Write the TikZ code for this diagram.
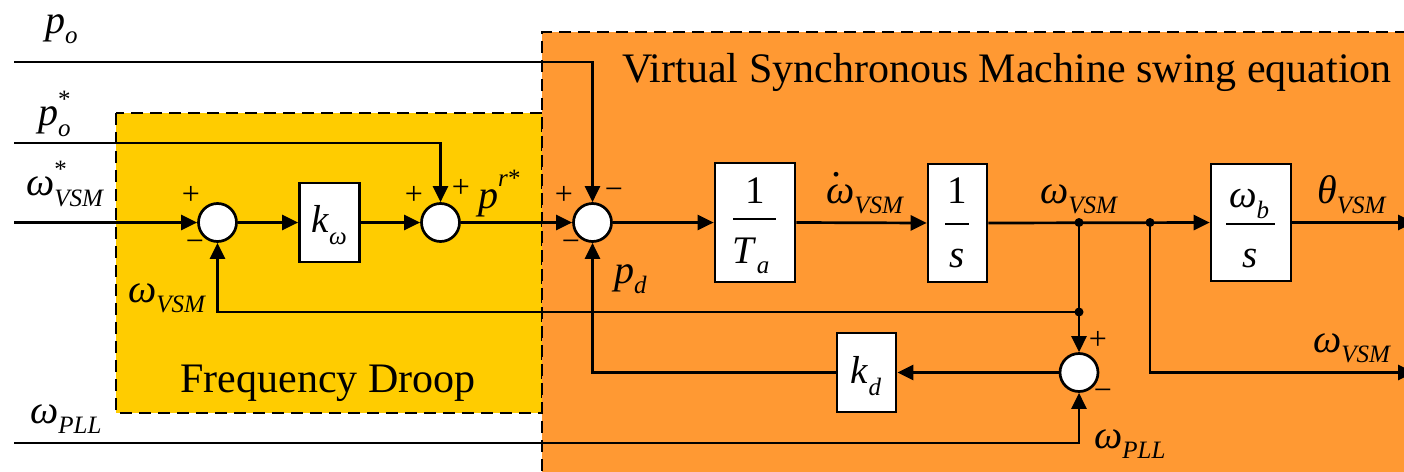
\documentclass[tikz,border=0pt]{standalone}
\usepackage{fontspec}
\setmainfont{Liberation Serif}
\usetikzlibrary{arrows.meta}
\definecolor{droopyellow}{RGB}{255,204,0}
\definecolor{vsmorange}{RGB}{255,153,51}
\newcommand{\msub}[2]{\textit{#1}\raisebox{-10pt}{\fontsize{25}{25}\selectfont\textit{#2}}}
\newcommand{\msubsup}[3]{\textit{#1}\makebox[0pt][l]{\raisebox{18pt}{\fontsize{25}{25}\selectfont #3}}\raisebox{-11pt}{\fontsize{25}{25}\selectfont\textit{#2}}}
\begin{document}
\begin{tikzpicture}[x=1pt,y=-1pt,
  wire/.style={line width=2.7pt},
  sig/.style={wire,-{Triangle[length=16pt,width=15pt]}},
  sumnode/.style={circle,draw,fill=white,line width=2.7pt,minimum size=38pt,inner sep=0pt},
  blk/.style={draw,fill=white,line width=2.7pt,inner sep=0pt},
  lab/.style={inner sep=0pt,anchor=base west,font=\fontsize{40}{44}\selectfont},
  sgn/.style={inner sep=0pt,text height=0.5em,text depth=0pt,font=\fontsize{32}{32}\selectfont},
  jdot/.style={circle,fill=black,minimum size=9pt,inner sep=0pt},
  fracpart/.style={inner sep=0pt,anchor=base,font=\fontsize{39}{44}\selectfont},
  fbar/.style={line width=2.5pt},
  dashborder/.style={dash pattern=on 12pt off 7pt,line width=2.4pt},
  bigtext/.style={inner sep=0pt,anchor=base,font=\fontsize{42}{48}\selectfont}
]
\useasboundingbox (0,0) rectangle (1404,471);
\fill[white] (0,0) rectangle (1404,471);
% regions
\fill[droopyellow] (116,113) rectangle (542,413);
\draw[dashborder] (116,113) rectangle (542,413);
\fill[vsmorange] (542,32) rectangle (1420,490);
\draw[dashborder] (542,490) -- (542,32) -- (1420,32);
\node[bigtext] (title) at (1007,82) {Virtual Synchronous Machine swing equation};
\node[bigtext] (droop) at (328,392) {Frequency Droop};
% inputs / junctions
\coordinate (in_po) at (14,62);
\coordinate (in_pos) at (14,143);
\coordinate (in_w) at (14,222.5);
\coordinate (in_pll) at (14,443);
\coordinate (d1) at (1079,222.5);
\coordinate (d2) at (1150,222.5);
\coordinate (d3) at (1079,312);
\coordinate (out_th) at (1414,222.5);
\coordinate (out_w) at (1414,372.5);
% blocks
\node[sumnode] (s1) at (217.5,222.5) {};
\node[blk,minimum width=60pt,minimum height=79pt] (kw) at (329.5,222.5) {};
\node[sumnode] (s2) at (440.5,222.5) {};
\node[sumnode] (s3) at (592.5,222.5) {};
\node[blk,minimum width=80pt,minimum height=119pt] (Ta) at (755,222.5) {};
\node[blk,minimum width=59pt,minimum height=118pt] (is) at (957.5,223) {};
\node[blk,minimum width=80pt,minimum height=117pt] (wb) at (1251,222.5) {};
\node[sumnode] (s4) at (1079,372.5) {};
\node[blk,minimum width=59pt,minimum height=79pt] (kd) at (866.5,372.5) {};
% block contents
\node[fracpart] (kw_t) at (329,232) {\textit{k}\raisebox{-12pt}{\fontsize{25}{25}\selectfont\textit{ω}}};
\node[fracpart] (kd_t) at (866,383) {\textit{k}\raisebox{-12pt}{\fontsize{25}{25}\selectfont\textit{d}}};
\node[fracpart] (ta_n) at (755,203) {1};
\draw[fbar] (733,219) -- (776,219);
\node[fracpart] (ta_d) at (751,263) {\msub{T}{a}};
\node[fracpart] (is_n) at (957,203) {1};
\draw[fbar] (945,224) -- (969,224);
\node[fracpart] (is_d) at (957,267) {\textit{s}};
\node[fracpart] (wb_n) at (1249,207) {\textit{ω}\raisebox{-11pt}{\fontsize{25}{25}\selectfont\textit{b}}};
\draw[fbar] (1226,224) -- (1275,224);
\node[fracpart] (wb_d) at (1250,267) {\textit{s}};
% connectors
\draw[sig] (in_po) -| (s3.north);
\draw[sig] (in_pos) -| (s2.north);
\draw[sig] (in_w) -- (s1.west);
\draw[sig] (s1.east) -- (kw.west);
\draw[sig] (kw.east) -- (s2.west);
\draw[sig] (s2.east) -- (s3.west);
\draw[sig] (s3.east) -- (Ta.west);
\draw[sig] (Ta.east) -- (is.west);
\draw[sig] (is.east) -- (wb.west);
\draw[sig] (wb.east) -- (out_th);
\draw[sig] (d1) -- (s4.north);
\draw[sig] (d3) -| (s1.south);
\draw[sig] (s4.west) -- (kd.east);
\draw[sig] (kd.west) -| (s3.south);
\draw[sig] (in_pll) -| (s4.south);
\draw[sig] (d2) |- (out_w);
\node[jdot] (dot1) at (d1) {};
\node[jdot] (dot2) at (d2) {};
\node[jdot] (dot3) at (d3) {};
% signs
\node[sgn] (s1p) at (191,202) {+};
\node[sgn] (s1m) at (195,249) {−};
\node[sgn] (s2p1) at (414,202) {+};
\node[sgn] (s2p2) at (461,195) {+};
\node[sgn] (s3p) at (564,202) {+};
\node[sgn] (s3m1) at (614,197) {−};
\node[sgn] (s3m2) at (571,249) {−};
\node[sgn] (s4p) at (1098,347) {+};
\node[sgn] (s4m) at (1103,398) {−};
% signal labels
\node[lab] (l_po) at (45,33) {\msub{p}{o}};
\node[lab] (l_pos) at (38,125) {\msubsup{p}{o}{*}};
\node[lab] (l_ws) at (26,195) {\msubsup{ω}{VSM}{*}};
\node[lab] (l_wfb) at (128,302) {\msub{ω}{VSM}};
\node[lab] (l_wpll) at (30,423) {\msub{ω}{PLL}};
\node[lab] (l_pr) at (478,208) {\textit{p}\raisebox{22pt}{\fontsize{25}{25}\selectfont\textit{r}*}};
\node[lab] (l_pd) at (614,283) {\msub{p}{d}};
\node[lab] (l_wdot) at (826,203) {\makebox[0pt][l]{\hspace{6pt}\raisebox{27pt}{\textit{.}}}\msub{ω}{VSM}};
\node[lab] (l_w1) at (1040,203) {\msub{ω}{VSM}};
\node[lab] (l_th) at (1317,203) {\msub{θ}{VSM}};
\node[lab] (l_w2) at (1313,352) {\msub{ω}{VSM}};
\node[lab] (l_wpll2) at (1094,448) {\msub{ω}{PLL}};
\end{tikzpicture}
\end{document}
